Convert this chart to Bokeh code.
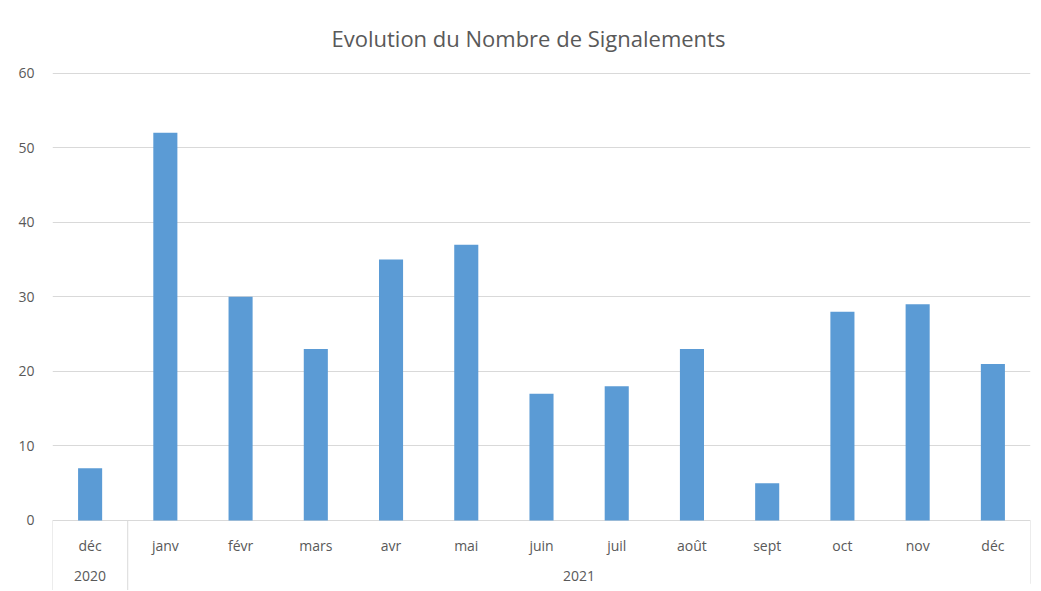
from bokeh.plotting import figure
from bokeh.models import ColumnDataSource, FixedTicker, Range1d
from bokeh.core.properties import value
from bokeh.embed import file_html
from bokeh.resources import INLINE

months = ["déc", "janv", "févr", "mars", "avr", "mai", "juin", "juil", "août", "sept", "oct", "nov", "déc"]
years = ["2020", "2021"]
year_spans = [1, 12]
counts = [7, 52, 30, 23, 35, 37, 17, 18, 23, 5, 28, 29, 21]
y_ticks = [0, 10, 20, 30, 40, 50, 60]

n = len(months)
xpos = [i + 0.5 for i in range(n)]

FONT = "Open Sans"
TXT = "#595959"
GRID = "#d9d9d9"
YMIN = -9.4

p = figure(width=1036, height=590, output_backend="svg", toolbar_location=None,
           x_range=Range1d(0, n), y_range=Range1d(YMIN, 60.5),
           min_border_left=52, min_border_right=6, min_border_top=69, min_border_bottom=0,
           title="Evolution du Nombre de Signalements")
p.title.align = "left"
p.title.offset = 279
p.title.text_font = FONT
p.title.text_font_style = "normal"
p.title.text_font_size = "22px"
p.title.text_color = TXT
p.title.standoff = 33

p.outline_line_color = None
p.xaxis.visible = False
p.xgrid.visible = False

yax = p.yaxis[0]
yax.ticker = FixedTicker(ticks=y_ticks)
yax.axis_line_color = None
yax.major_tick_line_color = None
yax.minor_tick_line_color = None
yax.major_label_text_font = FONT
yax.major_label_text_font_size = "14px"
yax.major_label_text_color = TXT
yax.major_label_standoff = 12

p.ygrid.ticker = FixedTicker(ticks=y_ticks)
p.ygrid.grid_line_color = GRID
p.ygrid.grid_line_width = 1

src = ColumnDataSource(dict(x=xpos, top=counts, label=months))
p.vbar(x="x", top="top", width=0.32, bottom=0, source=src,
       fill_color="#5B9BD5", line_color=None)

# month labels
p.text(x="x", y=-3.3, text="label", source=src, text_align="center", text_baseline="middle",
       text_font=value(FONT), text_font_size="14px", text_color=TXT)

# year labels and separators
starts = [0]
for s in year_spans:
    starts.append(starts[-1] + s)
ycx = [(starts[i] + starts[i + 1]) / 2 for i in range(len(years))]
p.text(x=ycx, y=[-7.5] * len(years), text=years, text_align="center", text_baseline="middle",
       text_font=value(FONT), text_font_size="14px", text_color=TXT)
p.segment(x0=starts, y0=[0] * len(starts), x1=starts, y1=[YMIN, YMIN, -8.5],
          line_color=GRID, line_width=1)

open("out.html", "w").write(file_html(p, INLINE))
